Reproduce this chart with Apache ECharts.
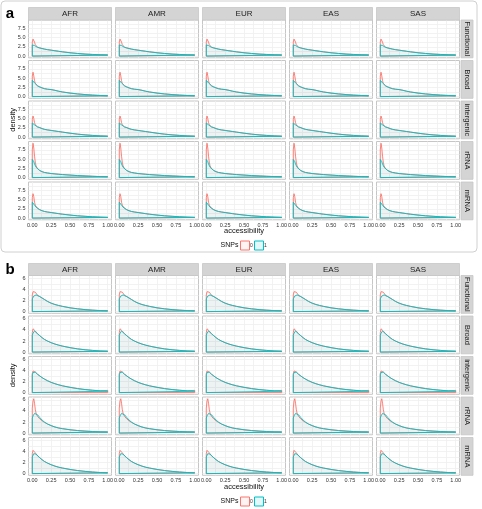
<!DOCTYPE html>
<html>
<head>
<meta charset="utf-8">
<script src="https://cdn.jsdelivr.net/npm/echarts@6/dist/echarts.min.js"></script>
<style>
html, body { margin: 0; padding: 0; background: #fff; }
#main { width: 482px; height: 509px; }
</style>
</head>
<body>
<div id="main"></div>
<script>
// facets
var populations = ['AFR', 'AMR', 'EUR', 'EAS', 'SAS'];
var regions = ['Functional', 'Broad', 'intergenic', 'rRNA', 'mRNA'];
var snpLevels = ['0', '1'];

// accessibility values where the densities were read
var xs = [0, 0.01, 0.02, 0.03, 0.04, 0.05, 0.07, 0.1, 0.13, 0.16, 0.2, 0.25, 0.3, 0.35, 0.4, 0.5, 0.6, 0.7, 0.8, 0.9, 1.0];

// panel a densities (SNPs 0 / 1), same shape for every population
var aFunctional0 = [3.8, 4.6, 4.5, 3.8, 3.1, 2.7, 2.4, 2.2, 2.05, 1.9, 1.75, 1.6, 1.45, 1.3, 1.15, 0.9, 0.7, 0.55, 0.43, 0.34, 0.27];
var aFunctional1 = [3.0, 3.0, 2.95, 2.85, 2.7, 2.55, 2.35, 2.2, 2.05, 1.9, 1.75, 1.6, 1.45, 1.3, 1.15, 0.9, 0.72, 0.55, 0.45, 0.35, 0.28];
var aBroad0 = [5.5, 6.6, 5.6, 4.3, 3.6, 3.25, 2.9, 2.6, 2.35, 2.15, 2.0, 1.9, 1.7, 1.45, 1.25, 0.95, 0.72, 0.55, 0.4, 0.3, 0.2];
var aBroad1 = [4.4, 4.3, 4.0, 3.7, 3.4, 3.2, 2.9, 2.6, 2.35, 2.15, 2.0, 1.9, 1.7, 1.45, 1.25, 0.95, 0.72, 0.55, 0.4, 0.3, 0.2];
var aIntergenic0 = [4.8, 5.7, 5.0, 3.9, 3.3, 3.0, 2.75, 2.55, 2.3, 2.1, 1.95, 1.8, 1.65, 1.5, 1.35, 1.05, 0.8, 0.6, 0.45, 0.32, 0.22];
var aIntergenic1 = [3.8, 3.75, 3.55, 3.3, 3.1, 2.95, 2.75, 2.55, 2.3, 2.1, 1.95, 1.8, 1.65, 1.5, 1.35, 1.05, 0.8, 0.6, 0.45, 0.32, 0.22];
var arRNA0 = [7.5, 9.3, 8.0, 5.8, 4.2, 3.2, 2.4, 1.9, 1.6, 1.4, 1.25, 1.1, 1.0, 0.9, 0.82, 0.68, 0.55, 0.45, 0.35, 0.27, 0.2];
var arRNA1 = [4.9, 4.8, 4.3, 3.7, 3.2, 2.8, 2.3, 1.9, 1.6, 1.4, 1.25, 1.1, 1.0, 0.9, 0.82, 0.68, 0.55, 0.45, 0.35, 0.27, 0.2];
var amRNA0 = [5.5, 6.6, 5.8, 4.3, 3.5, 3.05, 2.65, 2.25, 2.0, 1.8, 1.65, 1.5, 1.35, 1.2, 1.05, 0.82, 0.62, 0.48, 0.36, 0.26, 0.18];
var amRNA1 = [4.3, 4.2, 3.9, 3.5, 3.2, 2.95, 2.6, 2.25, 2.0, 1.8, 1.65, 1.5, 1.35, 1.2, 1.05, 0.82, 0.62, 0.48, 0.36, 0.26, 0.18];

// panel b densities
var bFunctional0 = [3.0, 3.6, 3.85, 3.8, 3.5, 3.2, 2.95, 2.7, 2.45, 2.2, 1.85, 1.52, 1.28, 1.1, 0.94, 0.68, 0.5, 0.36, 0.26, 0.18, 0.12];
var bFunctional1 = [2.3, 2.6, 2.8, 2.95, 3.0, 3.0, 2.9, 2.7, 2.45, 2.2, 1.85, 1.52, 1.28, 1.1, 0.94, 0.68, 0.5, 0.36, 0.26, 0.18, 0.12];
var bBroad0 = [3.5, 4.2, 4.4, 4.1, 3.8, 3.6, 3.3, 2.95, 2.6, 2.3, 2.0, 1.7, 1.45, 1.25, 1.08, 0.8, 0.58, 0.42, 0.3, 0.2, 0.14];
var bBroad1 = [3.0, 3.4, 3.7, 3.8, 3.75, 3.6, 3.3, 2.95, 2.6, 2.3, 2.0, 1.7, 1.45, 1.25, 1.08, 0.8, 0.58, 0.42, 0.3, 0.2, 0.14];
var bIntergenic0 = [3.4, 3.9, 4.0, 3.85, 3.7, 3.55, 3.3, 3.0, 2.7, 2.45, 2.15, 1.85, 1.6, 1.4, 1.22, 0.95, 0.72, 0.55, 0.42, 0.32, 0.4];
var bIntergenic1 = [3.2, 3.6, 3.8, 3.8, 3.7, 3.55, 3.3, 3.0, 2.7, 2.45, 2.15, 1.85, 1.6, 1.4, 1.22, 0.95, 0.72, 0.55, 0.42, 0.32, 0.25];
var brRNA0 = [4.5, 5.8, 6.2, 5.4, 4.3, 3.6, 3.0, 2.55, 2.2, 1.95, 1.65, 1.35, 1.1, 0.92, 0.8, 0.6, 0.46, 0.36, 0.28, 0.22, 0.18];
var brRNA1 = [2.7, 3.1, 3.4, 3.55, 3.6, 3.55, 3.3, 2.8, 2.35, 2.0, 1.65, 1.35, 1.1, 0.92, 0.8, 0.6, 0.46, 0.36, 0.28, 0.22, 0.18];
var bmRNA0 = [3.6, 4.2, 4.4, 4.1, 3.75, 3.5, 3.2, 2.85, 2.5, 2.2, 1.9, 1.6, 1.35, 1.15, 1.0, 0.75, 0.55, 0.4, 0.28, 0.19, 0.13];
var bmRNA1 = [3.0, 3.35, 3.6, 3.7, 3.65, 3.5, 3.2, 2.85, 2.5, 2.2, 1.9, 1.6, 1.35, 1.15, 1.0, 0.75, 0.55, 0.4, 0.28, 0.19, 0.13];

// tick labels
var xTicks = [0, 0.25, 0.5, 0.75, 1];
var xMinor = [0.125, 0.375, 0.625, 0.875];
var yTicksA = [0, 2.5, 5, 7.5];
var yMinorA = [1.25, 3.75, 6.25, 8.75];
var yTicksB = [0, 2, 4, 6];
var yMinorB = [1, 3, 5];

var curvesA = [[aFunctional0, aFunctional1], [aBroad0, aBroad1], [aIntergenic0, aIntergenic1], [arRNA0, arRNA1], [amRNA0, amRNA1]];
var curvesB = [[bFunctional0, bFunctional1], [bBroad0, bBroad1], [bIntergenic0, bIntergenic1], [brRNA0, brRNA1], [bmRNA0, bmRNA1]];

var FONT = '"Liberation Sans", Arial, sans-serif';
var lineColors = ['#F8766D', '#00BFC4'];
var fillColors = ['rgba(248,118,109,0.08)', 'rgba(0,191,196,0.1)'];

var COL_X0 = 28.5, COL_STEP = 87, COL_W = 83;
var ROW_STEP = 40.5, ROW_H = 37.8;

var panels = [
    { letter: 'a', top: 20, stripTop: 7.5, ymin: -0.465, ymax: 9.765, yTicks: yTicksA, yMinor: yMinorA,
      fmt: function (v) { return v.toFixed(1); }, curves: curvesA, titleY: 230.5, legendY: 245.5, letterY: 13.5 },
    { letter: 'b', top: 275.5, stripTop: 263.5, ymin: -0.31, ymax: 6.51, yTicks: yTicksB, yMinor: yMinorB,
      fmt: function (v) { return String(v); }, curves: curvesB, titleY: 487, legendY: 501.5, letterY: 269.5 }
];

function toPoints(ys) {
    var pts = [[0, 0]];
    xs.forEach(function (x, k) { pts.push([x, ys[k]]); });
    pts.push([1, 0], [0, 0]);
    return pts;
}

function txt(x, y, s, font, color, align, rot) {
    return {
        type: 'text', x: x, y: y, rotation: rot || 0, silent: true, z: 10,
        style: { text: s, font: font, fill: color, textAlign: align || 'center', textVerticalAlign: 'middle' }
    };
}

var grids = [], xAxes = [], yAxes = [], series = [], graphics = [];

// frame round panel a
graphics.push({ type: 'rect', shape: { x: 1, y: 1, width: 476, height: 251, r: 4 }, style: { fill: null, stroke: '#d0d0d0', lineWidth: 1 }, silent: true, z: 0 });

panels.forEach(function (p) {
    graphics.push(txt(10, p.letterY, p.letter, 'bold 15px ' + FONT, '#000'));
    for (var j = 0; j < regions.length; j++) {
        var top = p.top + j * ROW_STEP;
        for (var i = 0; i < populations.length; i++) {
            var left = COL_X0 + i * COL_STEP;
            var g = grids.length;
            grids.push({ left: left, top: top, width: COL_W, height: ROW_H, show: true,
                backgroundColor: '#fff', borderColor: '#c6c6c6', borderWidth: 1 });
            xAxes.push({
                type: 'value', gridIndex: g, min: -0.05, max: 1.05,
                axisLine: { show: false },
                axisTick: { show: false, customValues: xTicks.concat(xMinor) },
                axisLabel: { show: j === regions.length - 1, customValues: xTicks, fontSize: 5.5,
                    color: '#333', margin: 2.5, fontFamily: FONT,
                    formatter: function (v) { return v.toFixed(2); } },
                splitLine: { show: true, lineStyle: { color: '#efefef', width: 0.8 } }
            });
            yAxes.push({
                type: 'value', gridIndex: g, min: p.ymin, max: p.ymax,
                axisLine: { show: false },
                axisTick: { show: false, customValues: p.yTicks.concat(p.yMinor) },
                axisLabel: { show: i === 0, customValues: p.yTicks, fontSize: 5.5,
                    color: '#333', margin: 3, fontFamily: FONT, formatter: p.fmt },
                splitLine: { show: true, lineStyle: { color: '#efefef', width: 0.8 } }
            });
            for (var s = 0; s < snpLevels.length; s++) {
                series.push({
                    name: snpLevels[s], type: 'line', xAxisIndex: g, yAxisIndex: g,
                    data: toPoints(p.curves[j][s]), symbol: 'none', silent: true,
                    lineStyle: { color: lineColors[s], width: 0.9 },
                    areaStyle: { color: fillColors[s] },
                    z: 2 + s
                });
            }
        }
        // right strip
        graphics.push({ type: 'rect', shape: { x: 461, y: top, width: 12, height: ROW_H },
            style: { fill: '#d4d4d4', stroke: '#c6c6c6', lineWidth: 0.8 }, silent: true, z: 5 });
        graphics.push(txt(467, top + ROW_H / 2, regions[j], '7.5px ' + FONT, '#222', 'center', -Math.PI / 2));
    }
    // top strips
    for (var c = 0; c < populations.length; c++) {
        var lx = COL_X0 + c * COL_STEP;
        graphics.push({ type: 'rect', shape: { x: lx, y: p.stripTop, width: COL_W, height: p.top - p.stripTop },
            style: { fill: '#d4d4d4', stroke: '#c6c6c6', lineWidth: 0.8 }, silent: true, z: 5 });
        graphics.push(txt(lx + COL_W / 2, (p.stripTop + p.top) / 2 + 0.5, populations[c], '8px ' + FONT, '#222'));
    }
    var midY = p.top + (regions.length * ROW_STEP - (ROW_STEP - ROW_H)) / 2;
    graphics.push(txt(13, midY, 'density', '7.5px ' + FONT, '#111', 'center', Math.PI / 2));
    graphics.push(txt(244, p.titleY, 'accessibility', '7.5px ' + FONT, '#111'));
    // legend
    graphics.push(txt(229.5, p.legendY, 'SNPs', '7px ' + FONT, '#111'));
    for (var k = 0; k < snpLevels.length; k++) {
        var bx = 240.5 + k * 14;
        graphics.push({ type: 'rect', shape: { x: bx, y: p.legendY - 4.5, width: 9, height: 9 },
            style: { fill: fillColors[k], stroke: lineColors[k], lineWidth: 1 }, silent: true, z: 5 });
        graphics.push(txt(bx + 11, p.legendY, snpLevels[k], '5px ' + FONT, '#333'));
    }
});

var chartDom = document.getElementById('main');
var myChart = echarts.init(chartDom, null, { renderer: 'canvas' });
var option = {
    animation: false,
    backgroundColor: '#fff',
    grid: grids,
    xAxis: xAxes,
    yAxis: yAxes,
    series: series,
    graphic: { elements: graphics }
};
myChart.setOption(option);
</script>
</body>
</html>
